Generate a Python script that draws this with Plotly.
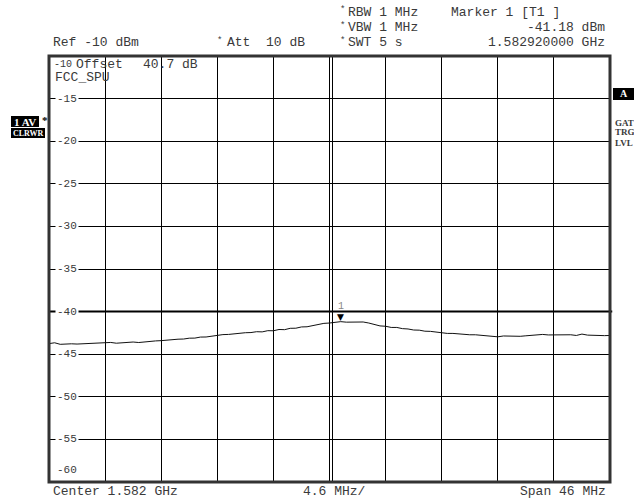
import plotly.graph_objects as go

# Sweep settings
center_mhz = 1582.0
span_mhz = 46.0
ref_level = -10.0
db_per_div = 5.0
n_divs = 10

# Marker 1 readout
marker_freq = 1582.92
marker_level = -41.18

# Averaged trace level (dBm), 101 sweep points across the span
trace_dbm = [
    -43.76, -43.66, -43.84, -43.80, -43.78, -43.81, -43.78, -43.80, -43.77, -43.76,
    -43.72, -43.62, -43.71, -43.66, -43.64, -43.57, -43.63, -43.54, -43.53, -43.44,
    -43.41, -43.33, -43.32, -43.24, -43.22, -43.12, -43.11, -42.99, -42.98, -42.86,
    -42.80, -42.70, -42.68, -42.60, -42.58, -42.48, -42.46, -42.36, -42.38, -42.24,
    -42.25, -42.10, -42.12, -41.96, -41.95, -41.80, -41.78, -41.64, -41.54, -41.38,
    -41.34, -41.22, -41.18, -41.24, -41.22, -41.28, -41.22, -41.34, -41.50, -41.68,
    -41.72, -41.86, -41.86, -42.00, -42.04, -42.16, -42.18, -42.30, -42.32, -42.42,
    -42.46, -42.56, -42.56, -42.64, -42.64, -42.72, -42.72, -42.80, -42.82, -42.92,
    -42.96, -42.86, -42.88, -42.86, -42.90, -42.84, -42.80, -42.68, -42.68, -42.74,
    -42.72, -42.74, -42.76, -42.72, -42.80, -42.64, -42.76, -42.80, -42.76, -42.82,
    -42.80,
]

y_tick_labels = ["-15", "-20", "-25", "-30", "-35", "-40", "-45", "-50", "-55"]
y_tick_values = [-15, -20, -25, -30, -35, -40, -45, -50, -55]

start_mhz = center_mhz - span_mhz / 2
stop_mhz = center_mhz + span_mhz / 2
n_pts = len(trace_dbm)
freqs = [start_mhz + span_mhz * i / (n_pts - 1) for i in range(n_pts)]
bottom_level = ref_level - db_per_div * n_divs

W, H = 634, 501
L, R, T, B = 49, 24, 56, 19
PW, PH = W - L - R, H - T - B


def px(x):
    return (x - L) / PW


def py(y):
    return (H - B - y) / PH


MONO = "Liberation Mono, Courier New, monospace"
SERIF = "Liberation Serif, Times New Roman, serif"
TXT = "#3a3a3a"

fig = go.Figure()
fig.add_trace(go.Scatter(
    x=freqs, y=trace_dbm, mode="lines",
    line=dict(color="#111111", width=1), hoverinfo="skip", showlegend=False,
))

shapes = []
# centre graticule line is drawn doubled
mhz_per_px = span_mhz / PW
shapes.append(dict(type="line", xref="x", yref="paper", x0=center_mhz + 3 * mhz_per_px,
                   x1=center_mhz + 3 * mhz_per_px, y0=0, y1=1, line=dict(color="#000000", width=1)))
# display line at -40 dBm
shapes.append(dict(type="line", xref="paper", yref="y", x0=0, x1=1.004, y0=-40, y1=-40,
                   line=dict(color="#000000", width=2)))
# heavy screen frame
shapes.append(dict(type="rect", xref="paper", yref="paper", x0=0, x1=1, y0=0, y1=1,
                   line=dict(color="#333333", width=3)))
# inverse-video status boxes
for (x0, x1, y0, y1) in [(11, 39, 116, 127), (11, 45, 128, 138), (613, 634, 88, 100)]:
    shapes.append(dict(type="rect", xref="paper", yref="paper", x0=px(x0), x1=px(x1),
                       y0=py(y1), y1=py(y0), fillcolor="#000000", line=dict(width=0)))

ann = []


def text(t, x, y, size=13, anchor="left", font=MONO, color=TXT, **kw):
    ann.append(dict(text=t, xref="paper", yref="paper", x=px(x), y=py(y), xanchor=anchor,
                    yanchor="middle", showarrow=False, font=dict(family=font, size=size, color=color), **kw))


# header
text("Ref -10 dBm", 51, 43)
text("*", 215, 41, size=9)
text("Att  10 dB", 225, 43)
text("*", 338, 10, size=9)
text("RBW 1 MHz", 346, 12)
text("*", 338, 26, size=9)
text("VBW 1 MHz", 346, 28)
text("*", 338, 41, size=9)
text("SWT 5 s", 346, 43)
text("Marker 1 [T1 ]", 449, 12)
text(f"{marker_level:.2f} dBm", 607, 28, anchor="right")
text(f"{marker_freq / 1000:.9f} GHz", 607, 43, anchor="right")

# footer
text(f"Center {center_mhz / 1000:.3f} GHz", 51, 491)
text(f"{span_mhz / n_divs:.1f} MHz/", 301, 491)
text(f"Span {span_mhz:.0f} MHz", 608, 491, anchor="right")

# inside the screen
text("-10", 52, 65, size=10)
text("Offset", 74, 65)
text("40.7 dB", 141, 65)
text("FCC_SPU", 53, 78)
text("-60", 55, 470, size=11)

# side status labels
text("<b>1 AV</b>", 11.5, 121.5, size=11, font=SERIF, color="#ffffff")
text("<b>*</b>", 40, 120, size=11, font=SERIF, color="#000000")
text("<b>CLRWR</b>", 11, 133, size=8, font=SERIF, color="#ffffff")
text("<b>A</b>", 623.5, 94, size=10, font=SERIF, color="#ffffff", anchor="center")
text("<b>GAT</b>", 613, 123, size=9, font=SERIF)
text("<b>TRG</b>", 613, 132, size=9, font=SERIF)
text("<b>LVL</b>", 613, 143, size=9, font=SERIF)

# level labels sit on the graticule, blanking it
for lab, val in zip(y_tick_labels, y_tick_values):
    ann.append(dict(text=lab, xref="paper", yref="y", x=0, y=val, xanchor="left", yanchor="middle",
                    xshift=6, showarrow=False, bgcolor="#ffffff", borderpad=1,
                    font=dict(family=MONO, size=11, color=TXT)))

# marker 1 symbol and number
ann.append(dict(text="▼", xref="x", yref="y", x=marker_freq, y=marker_level, xanchor="center",
                yanchor="bottom", yshift=-2, showarrow=False,
                font=dict(family="DejaVu Sans", size=9, color="#000000")))
ann.append(dict(text="1", xref="x", yref="y", x=marker_freq, y=marker_level, xanchor="center",
                yanchor="bottom", yshift=8, showarrow=False,
                font=dict(family=MONO, size=10, color="#888888")))

fig.update_layout(
    width=W, height=H, margin=dict(l=L, r=R, t=T, b=B),
    paper_bgcolor="#ffffff", plot_bgcolor="#ffffff",
    shapes=shapes, annotations=ann, showlegend=False,
    xaxis=dict(range=[start_mhz, stop_mhz], tick0=start_mhz, dtick=span_mhz / n_divs,
               showgrid=True, gridcolor="#000000", gridwidth=1, showticklabels=False,
               ticks="", zeroline=False, showline=False, fixedrange=True),
    yaxis=dict(range=[bottom_level, ref_level], tick0=bottom_level, dtick=db_per_div,
               showgrid=True, gridcolor="#000000", gridwidth=1, showticklabels=False,
               ticks="", zeroline=False, showline=False, fixedrange=True),
)

fig.write_html("out.html", config={"displayModeBar": False, "staticPlot": True})
